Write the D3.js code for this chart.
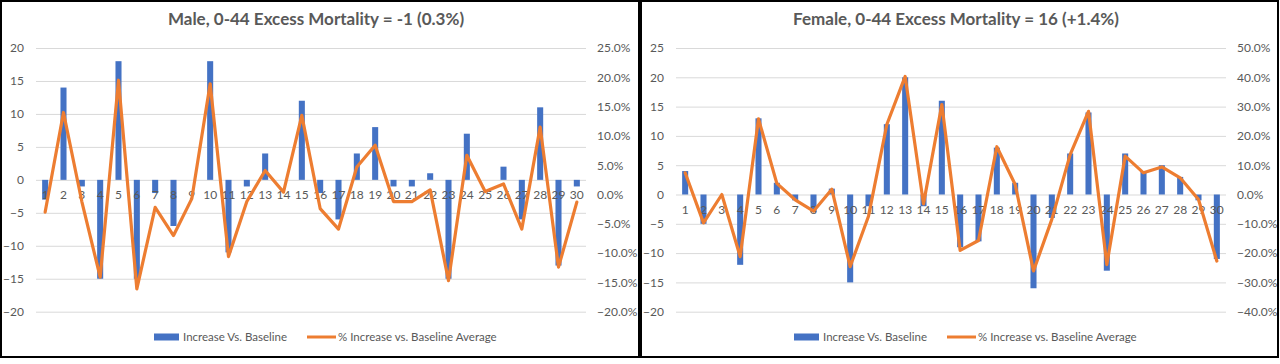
<!DOCTYPE html>
<html>
<head>
<meta charset="utf-8">
<script src="https://cdn.jsdelivr.net/npm/d3@7"></script>
<style>
  html, body { margin: 0; padding: 0; background: #fff; }
  svg { display: block; }
  text { font-family: Lato, "Open Sans", sans-serif; fill: #595959; }
</style>
</head>
<body>
<svg id="chart" width="1280" height="364"></svg>
<script>
// ---- data ----
const categories = d3.range(1, 31);

const maleTitle = "Male, 0-44 Excess Mortality = -1 (0.3%)";
const maleIncrease = [-3, 14, -1, -15, 18, -15, -2, -7, 0, 18, -11, -1, 4, 0, 12, -2, -6, 4, 8, -1, -1, 1, -15, 7, 0, 2, -6, 11, -13, -1];
const malePct = [-3.0, 14.0, -1.2, -14.1, 19.5, -16.1, -2.2, -7.0, -0.7, 18.9, -10.6, -1.2, 4.1, 0.4, 13.5, -2.4, -5.9, 4.7, 8.4, -1.2, -1.2, 0.8, -14.7, 6.7, 0.5, 1.8, -5.9, 11.5, -12.4, -1.3];
const maleLeftTicks = [20, 15, 10, 5, 0, -5, -10, -15, -20];
const maleRightTicks = [25, 20, 15, 10, 5, 0, -5, -10, -15, -20];

const femaleTitle = "Female, 0-44 Excess Mortality = 16 (+1.4%)";
const femaleIncrease = [4, -5, 0, -12, 13, 2, -1, -3, 1, -15, -2, 12, 20, -2, 16, -9, -8, 8, 2, -16, -4, 7, 14, -13, 7, 4, 5, 3, -1, -11];
const femalePct = [7.4, -9.7, 0.0, -21.2, 25.8, 3.8, -1.8, -5.7, 1.8, -24.6, -7.4, 23.9, 40.3, -3.2, 30.7, -19.1, -15.7, 16.3, 3.4, -26.1, -8.5, 13.6, 28.4, -23.9, 13.1, 7.4, 9.4, 5.7, -1.7, -22.7];
const femaleLeftTicks = [25, 20, 15, 10, 5, 0, -5, -10, -15, -20];
const femaleRightTicks = [50, 40, 30, 20, 10, 0, -10, -20, -30, -40];

const legendLabels = ["Increase Vs. Baseline", "% Increase vs. Baseline Average"];

const BLUE = "#4472C4", ORANGE = "#ED7D31", GRID = "#D9D9D9";

const svg = d3.select("#chart");

function drawPanel(ox, title, inc, pct, leftTicks, rightTicks) {
  const g = svg.append("g").attr("transform", `translate(${ox},0)`);
  const top = 48, bottom = 311.7;
  const x = d3.scaleBand().domain(categories).range([36, 586]).paddingInner(0.67).paddingOuter(0.335);
  const yL = d3.scaleLinear().domain([d3.min(leftTicks), d3.max(leftTicks)]).range([bottom, top]);
  const yR = d3.scaleLinear().domain([d3.min(rightTicks), d3.max(rightTicks)]).range([bottom, top]);

  // title
  g.append("text").attr("x", 316).attr("y", 25).attr("text-anchor", "middle")
    .style("font-size", "17px").style("font-weight", "bold").text(title);

  // gridlines + left axis labels
  const leftAxis = d3.axisLeft(yL).tickValues(leftTicks).tickSize(-550).tickPadding(12).tickFormat(d3.format("d"));
  const la = g.append("g").attr("transform", "translate(36,0)").call(leftAxis);
  la.select(".domain").remove();
  la.selectAll(".tick line").attr("stroke", GRID);
  la.selectAll(".tick text").style("font-size", "12px").attr("fill", "#595959").attr("font-family", null);

  // right axis labels
  const rightAxis = d3.axisRight(yR).tickValues(rightTicks).tickSize(0).tickPadding(11)
    .tickFormat(d => d3.format(".1f")(d) + "%");
  const ra = g.append("g").attr("transform", "translate(586,0)").call(rightAxis);
  ra.select(".domain").remove();
  ra.selectAll(".tick text").style("font-size", "12px").attr("fill", "#595959").attr("font-family", null);

  // bars
  g.append("g").selectAll("rect").data(inc).join("rect")
    .attr("x", (d, i) => x(categories[i]))
    .attr("width", x.bandwidth())
    .attr("y", d => Math.min(yL(d), yL(0)))
    .attr("height", d => Math.abs(yL(d) - yL(0)))
    .attr("fill", BLUE);

  // category labels
  const y0 = yL(0);
  g.append("g").selectAll("text").data(categories).join("text")
    .attr("x", d => x(d) + x.bandwidth() / 2)
    .attr("y", y0 + 19)
    .attr("text-anchor", "middle")
    .style("font-size", "12px")
    .text(d => d);

  // line
  const line = d3.line()
    .x((d, i) => x(categories[i]) + x.bandwidth() / 2)
    .y(d => yR(d));
  g.append("path").datum(pct).attr("d", line)
    .attr("fill", "none").attr("stroke", ORANGE).attr("stroke-width", 3.2)
    .attr("stroke-linejoin", "round").attr("stroke-linecap", "round");

  // legend
  const ly = 337;
  g.append("rect").attr("x", 154).attr("y", ly - 3.5).attr("width", 25).attr("height", 7).attr("fill", BLUE);
  g.append("text").attr("x", 183).attr("y", ly + 4).style("font-size", "11.5px").text(legendLabels[0]);
  g.append("line").attr("x1", 307).attr("x2", 336).attr("y1", ly).attr("y2", ly)
    .attr("stroke", ORANGE).attr("stroke-width", 3);
  g.append("text").attr("x", 338).attr("y", ly + 4).style("font-size", "11.5px").text(legendLabels[1]);
}

drawPanel(0, maleTitle, maleIncrease, malePct, maleLeftTicks, maleRightTicks);
drawPanel(640, femaleTitle, femaleIncrease, femalePct, femaleLeftTicks, femaleRightTicks);

// panel borders
svg.append("rect").attr("x", 1).attr("y", 1).attr("width", 638).attr("height", 356)
  .attr("fill", "none").attr("stroke", "#000").attr("stroke-width", 2);
svg.append("rect").attr("x", 641).attr("y", 1).attr("width", 637).attr("height", 356)
  .attr("fill", "none").attr("stroke", "#000").attr("stroke-width", 2);
</script>
</body>
</html>
